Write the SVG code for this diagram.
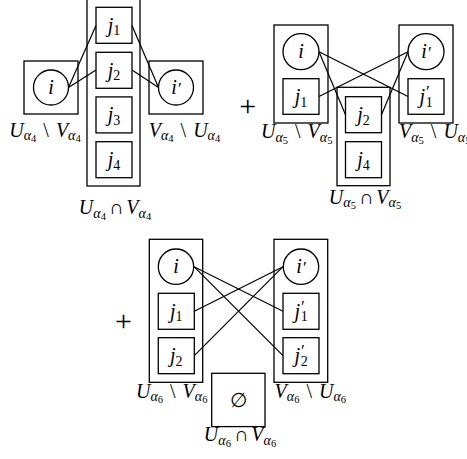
<svg xmlns="http://www.w3.org/2000/svg" width="467" height="459" viewBox="0 0 467 459" font-family="'Liberation Serif', 'Times New Roman', 'DejaVu Serif', serif">
  <style>
    .box { fill: #fff; stroke: #000; stroke-width: 1.3; }
    .set { fill: none; stroke: #000; stroke-width: 1.3; }
    .edge { stroke: #000; stroke-width: 1.2; fill: none; }
    text { font-family: 'Liberation Serif', 'Times New Roman', 'DejaVu Serif', serif; font-size: 20px; fill: #000; }
    .it { font-style: italic; }
    .sub { font-size: 14px; }
    .ssub { font-size: 10.5px; }
    .op { font-size: 30px; }
    .pr { font-size: 17px; }
  </style>

  <!-- ===== first term: alpha_4 ===== -->
  <g id="a4-cap">
    <rect class="set" x="87" y="-3" width="53" height="189"/>
    <text x="115" y="214" text-anchor="middle"><tspan class="it">U</tspan><tspan class="sub it" dy="3.5">α</tspan><tspan class="ssub" dy="2">4</tspan><tspan dy="-5.5" dx="3">∩</tspan><tspan class="it" dx="3">V</tspan><tspan class="sub it" dy="3.5">α</tspan><tspan class="ssub" dy="2">4</tspan></text>
  </g>
  <g id="a4-j1"><rect class="box" x="96" y="7.3" width="36" height="36"/><text x="114" y="31.5" text-anchor="middle"><tspan class="it">j</tspan><tspan class="sub" dy="3.5">1</tspan></text></g>
  <g id="a4-j2"><rect class="box" x="96" y="52.3" width="36" height="36"/><text x="114" y="76.5" text-anchor="middle"><tspan class="it">j</tspan><tspan class="sub" dy="3.5">2</tspan></text></g>
  <g id="a4-j3"><rect class="box" x="96" y="96.9" width="36" height="36"/><text x="114" y="121" text-anchor="middle"><tspan class="it">j</tspan><tspan class="sub" dy="3.5">3</tspan></text></g>
  <g id="a4-j4"><rect class="box" x="96" y="141.7" width="36" height="36"/><text x="114" y="166" text-anchor="middle"><tspan class="it">j</tspan><tspan class="sub" dy="3.5">4</tspan></text></g>
  <g id="a4-left">
    <rect class="set" x="24" y="61" width="54" height="53"/>
    <circle class="box" cx="51" cy="87.5" r="17.5"/>
    <text class="it" x="51" y="94" text-anchor="middle">i</text>
    <text x="45" y="136.5" text-anchor="middle"><tspan class="it">U</tspan><tspan class="sub it" dy="3.5">α</tspan><tspan class="ssub" dy="2">4</tspan><tspan dy="-5.5" dx="2"> \ </tspan><tspan class="it" dx="2">V</tspan><tspan class="sub it" dy="3.5">α</tspan><tspan class="ssub" dy="2">4</tspan></text>
  </g>
  <g id="a4-right">
    <rect class="set" x="149" y="61" width="54" height="53"/>
    <circle class="box" cx="176" cy="87.5" r="17.5"/>
    <text class="it" x="176" y="94" text-anchor="middle">i<tspan class="pr">′</tspan></text>
    <text x="184.5" y="136.5" text-anchor="middle"><tspan class="it">V</tspan><tspan class="sub it" dy="3.5">α</tspan><tspan class="ssub" dy="2">4</tspan><tspan dy="-5.5" dx="2"> \ </tspan><tspan class="it" dx="2">U</tspan><tspan class="sub it" dy="3.5">α</tspan><tspan class="ssub" dy="2">4</tspan></text>
  </g>

  <!-- ===== second term: alpha_5 ===== -->
  <text class="op" x="247.7" y="116" text-anchor="middle">+</text>
  <g id="a5-left">
    <rect class="set" x="274" y="25" width="54" height="98"/>
    <text x="296.7" y="138" text-anchor="middle"><tspan class="it">U</tspan><tspan class="sub it" dy="3.5">α</tspan><tspan class="ssub" dy="2">5</tspan><tspan dy="-5.5" dx="2"> \ </tspan><tspan class="it" dx="2">V</tspan><tspan class="sub it" dy="3.5">α</tspan><tspan class="ssub" dy="2">5</tspan></text>
  </g>
  <g id="a5-i"><circle class="box" cx="301" cy="51.7" r="18"/><text class="it" x="301" y="58.2" text-anchor="middle">i</text></g>
  <g id="a5-j1"><rect class="box" x="283" y="78.7" width="36" height="35.6"/><text x="301" y="103" text-anchor="middle"><tspan class="it">j</tspan><tspan class="sub" dy="3.5">1</tspan></text></g>
  <g id="a5-cap">
    <rect class="set" x="337" y="87.3" width="53" height="98.4"/>
    <text x="365" y="203.5" text-anchor="middle"><tspan class="it">U</tspan><tspan class="sub it" dy="3.5">α</tspan><tspan class="ssub" dy="2">5</tspan><tspan dy="-5.5" dx="3">∩</tspan><tspan class="it" dx="3">V</tspan><tspan class="sub it" dy="3.5">α</tspan><tspan class="ssub" dy="2">5</tspan></text>
  </g>
  <g id="a5-j2"><rect class="box" x="345.5" y="96.7" width="36" height="36"/><text x="363.5" y="121" text-anchor="middle"><tspan class="it">j</tspan><tspan class="sub" dy="3.5">2</tspan></text></g>
  <g id="a5-j4"><rect class="box" x="345.5" y="141.7" width="36" height="36"/><text x="363.5" y="166" text-anchor="middle"><tspan class="it">j</tspan><tspan class="sub" dy="3.5">4</tspan></text></g>
  <g id="a5-right">
    <rect class="set" x="399" y="25" width="54" height="98"/>
    <text x="399" y="138"><tspan class="it">V</tspan><tspan class="sub it" dy="3.5">α</tspan><tspan class="ssub" dy="2">5</tspan><tspan dy="-5.5" dx="2"> \ </tspan><tspan class="it" dx="2">U</tspan><tspan class="sub it" dy="3.5">α</tspan><tspan class="ssub" dy="2">5</tspan></text>
  </g>
  <g id="a5-ip"><circle class="box" cx="426" cy="51.7" r="18"/><text class="it" x="426" y="58.2" text-anchor="middle">i<tspan class="pr">′</tspan></text></g>
  <g id="a5-j1p"><rect class="box" x="408" y="78.7" width="36" height="35.6"/><text x="419.5" y="103"><tspan class="it">j</tspan><tspan class="pr it" dy="-6">′</tspan><tspan class="sub" dx="-3" dy="9.5">1</tspan></text></g>

  <!-- ===== third term: alpha_6 ===== -->
  <text class="op" x="123.5" y="331" text-anchor="middle">+</text>
  <g id="a6-left">
    <rect class="set" x="149.3" y="239.3" width="53.4" height="143"/>
    <text x="171.7" y="397.5" text-anchor="middle"><tspan class="it">U</tspan><tspan class="sub it" dy="3.5">α</tspan><tspan class="ssub" dy="2">6</tspan><tspan dy="-5.5" dx="2"> \ </tspan><tspan class="it" dx="2">V</tspan><tspan class="sub it" dy="3.5">α</tspan><tspan class="ssub" dy="2">6</tspan></text>
  </g>
  <g id="a6-i"><circle class="box" cx="176" cy="266.7" r="17.7"/><text class="it" x="176" y="273.2" text-anchor="middle">i</text></g>
  <g id="a6-j1"><rect class="box" x="158.3" y="293.3" width="36" height="36"/><text x="176.3" y="317.5" text-anchor="middle"><tspan class="it">j</tspan><tspan class="sub" dy="3.5">1</tspan></text></g>
  <g id="a6-j2"><rect class="box" x="158.3" y="337.7" width="36" height="36"/><text x="176.3" y="362" text-anchor="middle"><tspan class="it">j</tspan><tspan class="sub" dy="3.5">2</tspan></text></g>
  <g id="a6-right">
    <rect class="set" x="274" y="239.3" width="53.7" height="143"/>
    <text x="310.3" y="397.5" text-anchor="middle"><tspan class="it">V</tspan><tspan class="sub it" dy="3.5">α</tspan><tspan class="ssub" dy="2">6</tspan><tspan dy="-5.5" dx="2"> \ </tspan><tspan class="it" dx="2">U</tspan><tspan class="sub it" dy="3.5">α</tspan><tspan class="ssub" dy="2">6</tspan></text>
  </g>
  <g id="a6-ip"><circle class="box" cx="301" cy="266.7" r="17.7"/><text class="it" x="301" y="273.2" text-anchor="middle">i<tspan class="pr">′</tspan></text></g>
  <g id="a6-j1p"><rect class="box" x="283" y="293.3" width="36" height="36"/><text x="294.5" y="317.5"><tspan class="it">j</tspan><tspan class="pr it" dy="-6">′</tspan><tspan class="sub" dx="-3" dy="9.5">1</tspan></text></g>
  <g id="a6-j2p"><rect class="box" x="283" y="337.7" width="36" height="36"/><text x="294.5" y="362"><tspan class="it">j</tspan><tspan class="pr it" dy="-6">′</tspan><tspan class="sub" dx="-3" dy="9.5">2</tspan></text></g>
  <g id="a6-cap">
    <rect class="box" x="211.7" y="373.3" width="53.3" height="53.3"/>
    <text x="238.3" y="407" text-anchor="middle">∅</text>
    <text x="240" y="441" text-anchor="middle"><tspan class="it">U</tspan><tspan class="sub it" dy="3.5">α</tspan><tspan class="ssub" dy="2">6</tspan><tspan dy="-5.5" dx="3">∩</tspan><tspan class="it" dx="3">V</tspan><tspan class="sub it" dy="3.5">α</tspan><tspan class="ssub" dy="2">6</tspan></text>
  </g>

  <!-- connectors -->
  <g id="edges">
    <line class="edge" x1="68.5" y1="87.5" x2="96" y2="25.5"/>
    <line class="edge" x1="68.5" y1="87.5" x2="96" y2="70"/>
    <line class="edge" x1="132" y1="25.5" x2="158.5" y2="87.5"/>
    <line class="edge" x1="132" y1="70" x2="158.5" y2="87.5"/>

    <line class="edge" x1="319" y1="51.7" x2="345.5" y2="114.7"/>
    <line class="edge" x1="319" y1="51.7" x2="408" y2="96.5"/>
    <line class="edge" x1="319" y1="96.5" x2="408" y2="51.7"/>
    <line class="edge" x1="381.5" y1="114.7" x2="408" y2="51.7"/>

    <line class="edge" x1="194" y1="266.7" x2="283" y2="311.3"/>
    <line class="edge" x1="194" y1="266.7" x2="283" y2="355.7"/>
    <line class="edge" x1="194.3" y1="311.3" x2="283" y2="266.7"/>
    <line class="edge" x1="194.3" y1="355.7" x2="283" y2="266.7"/>
  </g>
</svg>
